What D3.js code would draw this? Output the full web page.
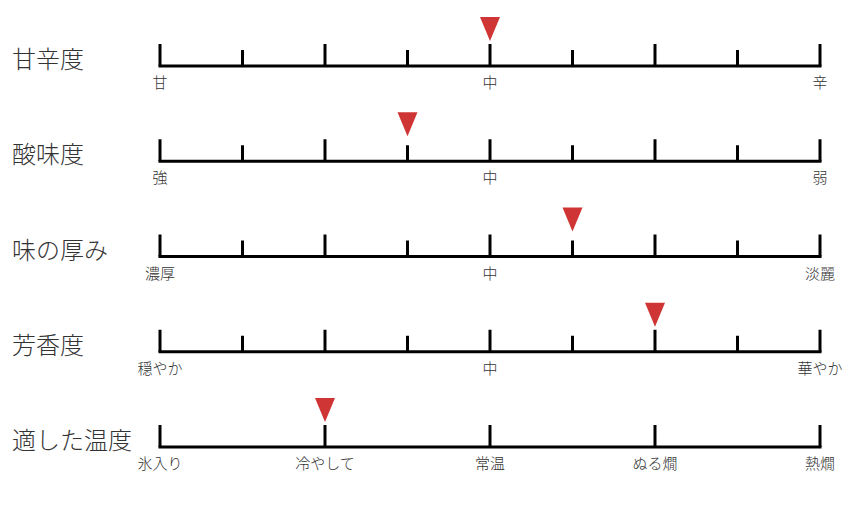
<!DOCTYPE html>
<html><head><meta charset="utf-8">
<script src="https://cdn.jsdelivr.net/npm/d3@7"></script>
<style>body{margin:0;background:#fff;}svg{display:block;font-family:"Noto Sans CJK JP","Noto Sans",sans-serif;}</style>
</head><body>
<svg id="c" width="850" height="506"></svg>
<script>
const titles = ["甘辛度", "酸味度", "味の厚み", "芳香度", "適した温度"];
const steps = [8, 8, 8, 8, 4];
const values = [4, 3, 5, 6, 1];
const tickLabels = [
  [["甘",0],["中",4],["辛",8]],
  [["強",0],["中",4],["弱",8]],
  [["濃厚",0],["中",4],["淡麗",8]],
  [["穏やか",0],["中",4],["華やか",8]],
  [["氷入り",0],["冷やして",1],["常温",2],["ぬる燗",3],["熱燗",4]]
];

const svg = d3.select("#c");
const rowY = d3.scaleLinear().domain([0, 4]).range([66, 447]);

titles.forEach((t, i) => {
  const y = rowY(i);
  const n = steps[i];
  const x = d3.scaleLinear().domain([0, n]).range([160, 820]);
  const g = svg.append("g");
  g.append("text").attr("x", 12).attr("y", y + 2).text(t)
    .attr("font-size", 24).attr("font-weight", 300).attr("fill", "#333");
  g.append("line").attr("x1", x(0) - 1.5).attr("x2", x(n) + 1.5)
    .attr("y1", y).attr("y2", y).attr("stroke", "#000").attr("stroke-width", 3);
  d3.range(n + 1).forEach(k => {
    const major = (n === 4) || (k % 2 === 0);
    g.append("line").attr("x1", x(k)).attr("x2", x(k))
      .attr("y1", y).attr("y2", y - (major ? 22 : 16))
      .attr("stroke", "#000").attr("stroke-width", 3);
  });
  tickLabels[i].forEach(([lab, v]) => {
    g.append("text").attr("x", x(v)).attr("y", y + 22).attr("text-anchor", "middle")
      .attr("font-size", 15).attr("font-weight", 300).attr("fill", "#333").text(lab);
  });
  const mx = x(values[i]);
  const tip = y - 25, top = y - 49;
  g.append("path").attr("d", d3.line()([[mx - 10, top], [mx + 10, top], [mx, tip]]) + "Z")
    .attr("fill", "#d03535");
});
</script>
</body></html>
